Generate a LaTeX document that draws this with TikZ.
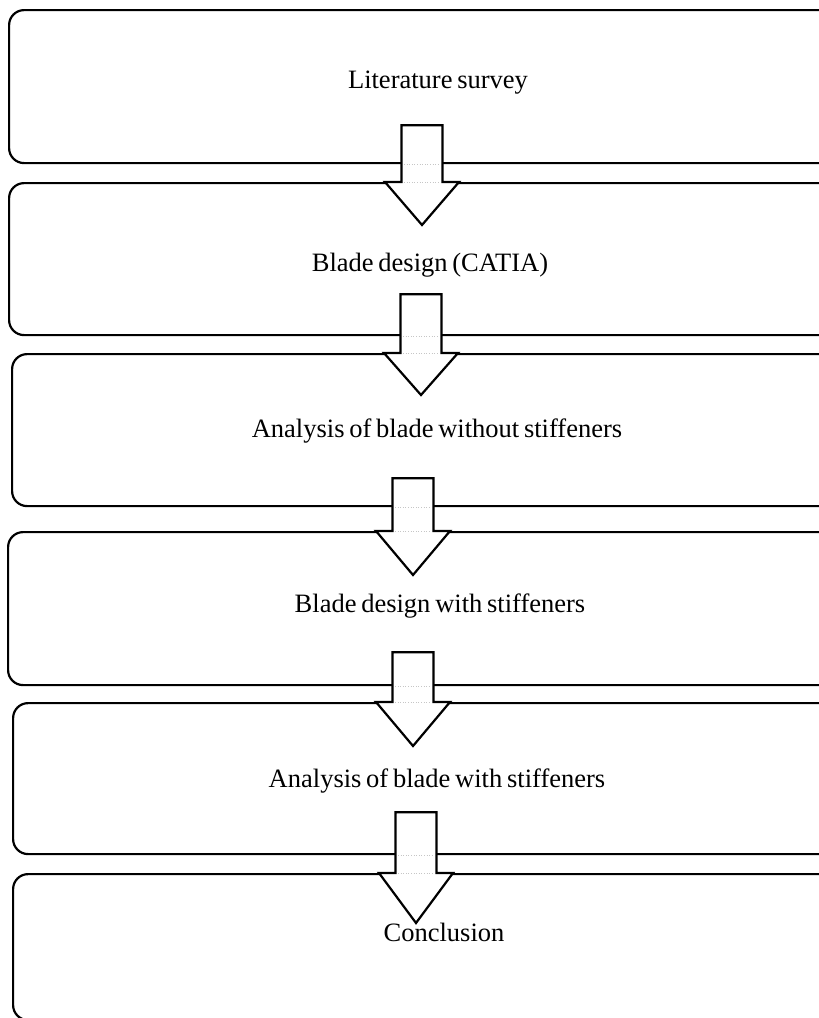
\documentclass[tikz,border=0pt]{standalone}
\usepackage{fontspec}
\setmainfont{Liberation Serif}
\usetikzlibrary{calc}
\newcommand\stepfont{\fontsize{26.5}{30}\selectfont\spaceskip=0.18em\relax}

\begin{document}
\begin{tikzpicture}[
				x=1pt,
				y=-1pt,
				line join=miter,
				box/.style={draw=black, line width=2.2pt, rounded corners=15pt, rectangle,
					anchor=north west, minimum width=860pt, inner sep=0pt},
				steplabel/.style={font=\stepfont, inner sep=0pt, anchor=base},
				blockarrow/.style={draw=black, fill=white, line width=2.2pt},
				seam/.style={draw=gray!45, line width=0.6pt, dotted}
				]
				\useasboundingbox (0,0) rectangle (819,1018);
				\clip (0,0) rectangle (819,1018);
				
				% Step boxes
				\foreach \name/\x/\top/\bot in {b1/8/9/162, b2/8/182/334, b3/11/353/505,
					b4/7/531/684, b5/12/702/853, b6/12/873/1019}{
					\pgfmathsetmacro\h{\bot-\top}
					\node[box, minimum height=\h pt] (\name) at (\x,\top) {};
				}
				
				% Step texts
				\node[steplabel] (t1) at (438,88) {Literature survey};
				\node[steplabel] (t2) at (430,271) {Blade design (CATIA)};
				\node[steplabel] (t3) at (437,437) {Analysis of blade without stiffeners};
				\node[steplabel] (t4) at (440,612) {Blade design with stiffeners};
				\node[steplabel] (t5) at (437,787) {Analysis of blade with stiffeners};
				\node[steplabel] (t6) at (444,941) {Conclusion};
				
				% Block arrows between boxes
				\foreach \from/\to/\cx/\up/\tip in {b1/b2/422/39/43, b2/b3/421/42/42,
					b3/b4/413/29/44, b4/b5/413/34/44, b5/b6/416/43/50}{
					\coordinate (st) at ($(\cx,0 |- \from.south)+(0,-\up)$);
					\coordinate (hd) at (\cx,0 |- \to.north);
					\draw[blockarrow] ($(st)+(-20.5,0)$) -- ($(st)+(20.5,0)$)
						-- ($(hd)+(20.5,0)$) -- ($(hd)+(37,0)$) -- ($(hd)+(0,\tip)$)
						-- ($(hd)+(-37,0)$) -- ($(hd)+(-20.5,0)$) -- cycle;
					\draw[seam] ($(\cx,0 |- \from.south)+(-18,0)$) -- ($(\cx,0 |- \from.south)+(18,0)$);
					\draw[seam] ($(hd)+(-18,0)$) -- ($(hd)+(18,0)$);
				}
			\end{tikzpicture}
\end{document}
